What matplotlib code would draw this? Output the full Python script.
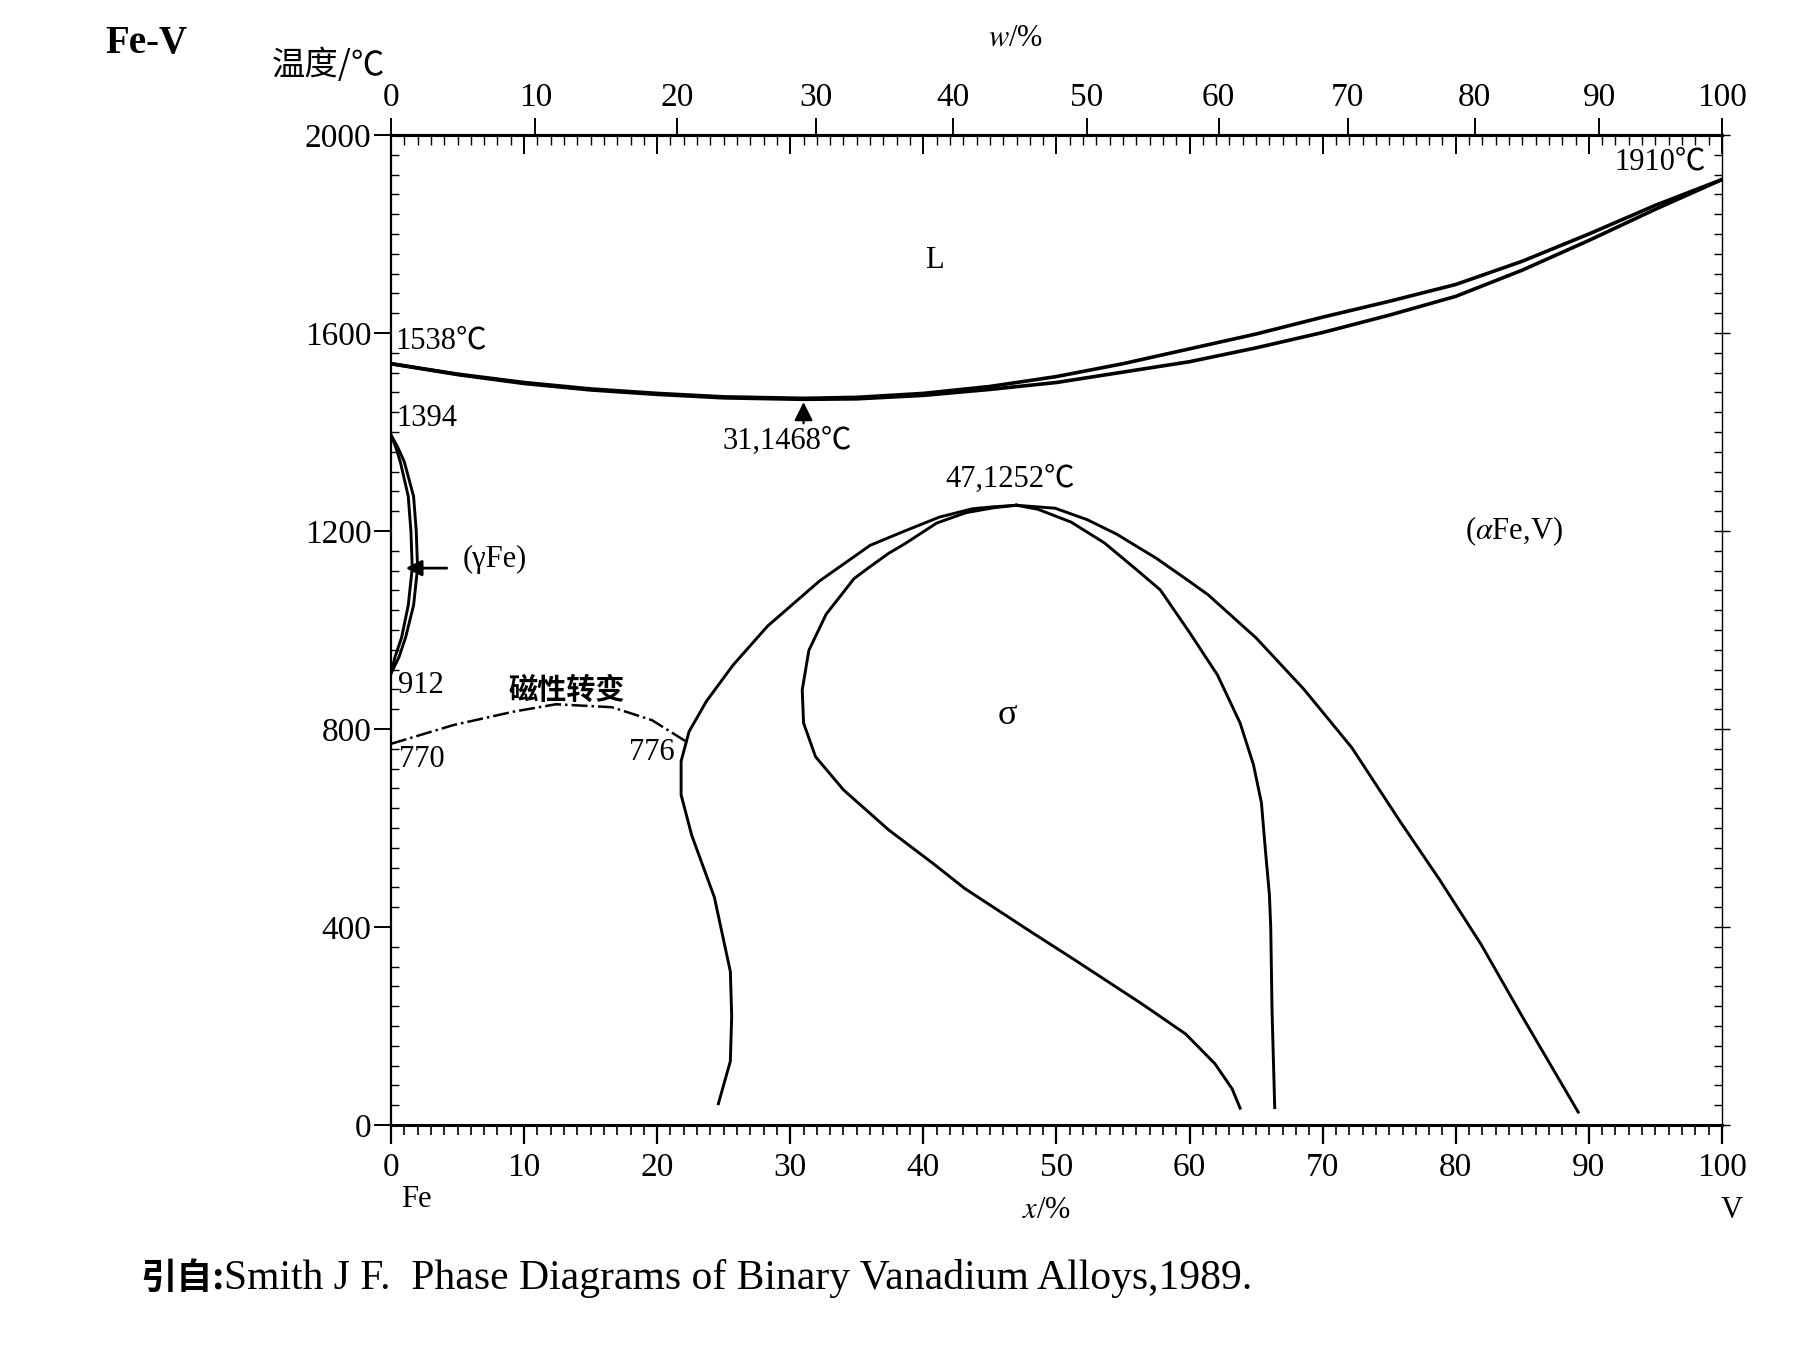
import matplotlib
matplotlib.use("Agg")
import matplotlib.pyplot as plt
from matplotlib.ticker import MultipleLocator
import numpy as np

plt.rcParams['font.family'] = ['Liberation Serif', 'Noto Sans CJK SC']
plt.rcParams['mathtext.fontset'] = 'stix'

M_FE = 55.845
M_V = 50.942

# liquidus / solidus (x = at.% V, t = deg C)
liq_x = [0, 5, 10, 15, 20, 25, 31, 35, 40, 45, 50, 55, 60, 65, 70, 75, 80, 85, 90, 95, 100]
liq_t = [1538, 1517, 1500, 1487, 1478, 1471, 1468, 1470, 1478, 1492, 1512, 1538, 1568, 1598, 1632,
         1664, 1698, 1745, 1800, 1858, 1910]
sol_x = [0, 5, 10, 15, 20, 25, 31, 35, 40, 45, 50, 55, 60, 65, 70, 75, 80, 85, 90, 95, 100]
sol_t = [1538, 1516, 1498, 1485, 1476, 1469, 1466, 1467, 1474, 1486, 1500, 1521, 1542, 1570, 1601,
         1636, 1674, 1727, 1787, 1850, 1910]

# gamma loop
gam_t = [1394, 1370, 1340, 1270, 1200, 1125, 1050, 985, 945, 912]
gam_out_x = [0, 0.5, 1.0, 1.7, 1.9, 2.0, 1.7, 1.1, 0.6, 0]
gam_in_x = [0, 0.35, 0.7, 1.3, 1.5, 1.6, 1.3, 0.8, 0.3, 0]

# magnetic transition
mag_x = [0, 4.7, 9.2, 12.4, 16.6, 19.6, 22.1]
mag_t = [770, 808, 835, 850, 844, 818, 776]

# sigma phase boundaries
sig_a_x = [47.0, 45.3, 43.7, 41.2, 38.6, 36.0, 32.2, 28.3, 25.7, 23.7, 22.4, 21.8, 21.8, 22.6,
           24.3, 25.5, 25.6, 25.5, 24.6]
sig_a_t = [1252, 1249, 1245, 1228, 1200, 1171, 1099, 1008, 929, 856, 795, 735, 667, 585,
           460, 310, 220, 129, 43]
sig_b_x = [47.0, 45.3, 43.2, 41.0, 38.6, 37.4, 36.0, 34.8, 32.7, 31.4, 30.9, 31.0, 31.9, 34.0,
           37.4, 40.7, 43.1, 48.1, 51.4, 56.4, 59.7, 61.9, 63.2, 63.8]
sig_b_t = [1252, 1247, 1237, 1216, 1174, 1155, 1128, 1104, 1032, 959, 879, 812, 744, 677,
           596, 529, 478, 390, 333, 245, 184, 124, 73, 34]
sig_c_x = [47.0, 48.6, 51.1, 53.6, 56.1, 57.8, 60.0, 62.1, 63.8, 64.8, 65.4, 65.7, 66.0, 66.1,
           66.2, 66.4]
sig_c_t = [1252, 1244, 1218, 1176, 1120, 1081, 995, 909, 812, 728, 651, 555, 465, 399,
           228, 35]
sig_d_x = [47.0, 49.9, 52.3, 54.5, 57.5, 60.0, 61.4, 65.0, 68.6, 72.2, 75.8, 78.8, 81.9, 85.0,
           89.2]
sig_d_t = [1252, 1246, 1223, 1194, 1145, 1098, 1071, 984, 880, 762, 614, 495, 365, 219, 26]

x_ticks = list(range(0, 101, 10))
w_ticks = list(range(0, 101, 10))
t_ticks = [0, 400, 800, 1200, 1600, 2000]


def at2wt(x):
    x = np.asarray(x, dtype=float)
    return 100 * x * M_V / (x * M_V + (100 - x) * M_FE)


def wt2at(w):
    w = np.asarray(w, dtype=float)
    return 100 * (w / M_V) / (w / M_V + (100 - w) / M_FE)


fig = plt.figure(figsize=(17.95, 13.46), dpi=100)
ax = fig.add_axes([0.2178, 0.1642, 0.7415, 0.7355])
ax.set_xlim(0, 100)
ax.set_ylim(0, 2000)

lw = 2.1
ax.plot(liq_x, liq_t, color='k', lw=2.6)
ax.plot(sol_x, sol_t, color='k', lw=2.6)
ax.plot(gam_out_x, gam_t, color='k', lw=lw)
ax.plot(gam_in_x, gam_t, color='k', lw=lw)
ax.plot(mag_x, mag_t, color='k', lw=1.8, ls='-.')
for xs, ts in [(sig_a_x, sig_a_t), (sig_b_x, sig_b_t), (sig_c_x, sig_c_t), (sig_d_x, sig_d_t)]:
    ax.plot(xs, ts, color='k', lw=lw)

# arrows
ax.annotate('', xy=(31, 1466), xytext=(31, 1412),
            arrowprops=dict(arrowstyle='-|>', color='k', lw=1.6, mutation_scale=28))
ax.annotate('', xy=(0.9, 1125), xytext=(4.4, 1125),
            arrowprops=dict(arrowstyle='-|>', color='k', lw=2.0, mutation_scale=24))

fs = 22
ax.text(40.8, 1746, 'L', fontsize=fs, ha='center', va='center')
ax.text(0.3, 1584, '1538℃', fontsize=fs, ha='left', va='center')
ax.text(0.4, 1427, '1394', fontsize=fs, ha='left', va='center')
ax.text(0.5, 888, '912', fontsize=fs, ha='left', va='center')
ax.text(0.6, 738, '770', fontsize=fs, ha='left', va='center')
ax.text(21.3, 753, '776', fontsize=fs, ha='right', va='center')
ax.text(13.2, 880, '磁性转变', fontsize=21, ha='center', va='center',
        family=['Noto Sans CJK SC'], weight='bold')
ax.text(7.8, 1142, '(γFe)', fontsize=fs, ha='center', va='center')
ax.text(29.8, 1382, '31,1468℃', fontsize=fs, ha='center', va='center')
ax.text(46.5, 1305, '47,1252℃', fontsize=fs, ha='center', va='center')
ax.text(46.3, 828, 'σ', fontsize=26, ha='center', va='center')
ax.text(84.4, 1199, r'($\alpha$Fe,V)', fontsize=fs, ha='center', va='center')
ax.text(98.8, 1946, '1910℃', fontsize=fs, ha='right', va='center')

# axes and ticks
ax.spines['bottom'].set_linewidth(2.2)
ax.spines['left'].set_linewidth(1.6)
ax.spines['top'].set_visible(False)
ax.spines['right'].set_visible(False)

ax.set_xticks(x_ticks)
ax.xaxis.set_minor_locator(MultipleLocator(1))
ax.set_yticks(t_ticks)
ax.yaxis.set_minor_locator(MultipleLocator(40))
ax.tick_params(axis='x', which='major', direction='out', length=14, width=1.6,
               labelsize=24, pad=6, top=False)
ax.tick_params(axis='x', which='minor', direction='out', length=7, width=1.2, top=False)
ax.tick_params(axis='y', which='major', direction='out', length=12, width=1.4,
               labelsize=24, pad=2, right=False)
ax.tick_params(axis='y', which='minor', direction='in', length=6, width=1.0, right=False)

# top at.% ticks (inward)
top_at = ax.secondary_xaxis('top')
top_at.set_xticks(x_ticks)
top_at.xaxis.set_minor_locator(MultipleLocator(1))
top_at.tick_params(which='major', direction='in', length=14, width=1.4, labeltop=False)
top_at.tick_params(which='minor', direction='in', length=7, width=1.0)
top_at.spines['top'].set_linewidth(2.2)

# top wt.% scale
top_w = ax.secondary_xaxis('top', functions=(at2wt, wt2at))
top_w.set_xticks(w_ticks)
top_w.tick_params(which='major', direction='out', length=12, width=1.4,
                  labelsize=24, pad=4)
top_w.tick_params(which='minor', length=0)
top_w.spines['top'].set_linewidth(2.2)

# right axis ticks (inward)
right_ax = ax.secondary_yaxis('right')
right_ax.set_yticks(t_ticks)
right_ax.yaxis.set_minor_locator(MultipleLocator(40))
right_ax.tick_params(which='major', direction='inout', length=12, width=1.0, labelright=False)
right_ax.tick_params(which='minor', direction='in', length=6, width=1.0)
right_ax.spines['right'].set_linewidth(1.0)

# labels around the frame
fig.text(0.0813, 0.968, 'Fe-V', fontsize=28, weight='bold', ha='center', va='center')
fig.text(0.1827, 0.951, '温度/℃', fontsize=24, ha='center', va='center',
         family=['Noto Sans CJK SC', 'DejaVu Sans'])
fig.text(0.5655, 0.972, r'$w$/%', fontsize=22, ha='center', va='center')
fig.text(0.5833, 0.1003, r'$x$/%', fontsize=22, ha='center', va='center')
fig.text(0.2318, 0.1092, 'Fe', fontsize=22, ha='center', va='center')
fig.text(0.9649, 0.1003, 'V', fontsize=22, ha='center', va='center')

cite = fig.text(0.078, 0.0505, '引自:', fontsize=26, ha='left', va='center',
                family=['Noto Sans CJK SC'], weight='bold')
ax.annotate('Smith J F.  Phase Diagrams of Binary Vanadium Alloys,1989.',
            xy=(1.0, 0.5), xycoords=cite, ha='left', va='center', fontsize=30,
            annotation_clip=False)

fig.savefig('out.png', dpi=100, facecolor='white')
